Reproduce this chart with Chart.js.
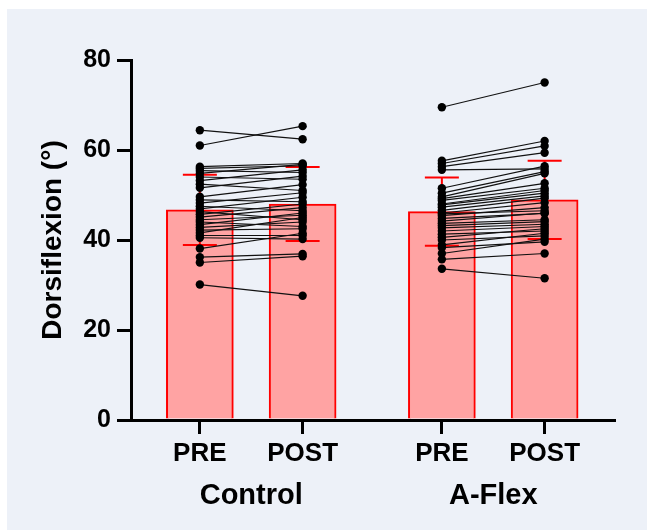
<!DOCTYPE html>
<html>
<head>
<meta charset="utf-8">
<title>Dorsiflexion PRE / POST</title>
<script src="https://cdn.jsdelivr.net/npm/chart.js@4.4.1/dist/chart.umd.min.js"></script>
<style>
    html, body { margin: 0; padding: 0; background: #fff; }
    body { width: 647px; height: 530px; position: relative; overflow: hidden; }
    .panel { position: absolute; left: 7px; top: 9px; right: 0; bottom: 0; background: #edf1f8; }
    #chart { position: absolute; left: 0; top: 0; }
</style>
</head>
<body>
<div class="panel"></div>
<canvas id="chart" width="647" height="530"></canvas>
<script>
// =============================================
// DATA
// =============================================
const groups = ['Control', 'A-Flex'];
const timeLabels = ['PRE', 'POST', 'PRE', 'POST'];
const yTicks = [0, 20, 40, 60, 80];

// bar heights (mean) and error bars (SD)
const barMeans = [46.7, 48.0, 46.3, 48.9];
const barSD = [7.8, 8.2, 7.6, 8.7];

// individual subjects, same index = same subject
const controlPre  = [64.4, 61.0, 56.3, 55.9, 55.4, 54.8, 54.0, 53.2, 52.4, 51.6, 49.6, 48.9, 48.2, 47.5, 46.9,
                     46.3, 45.7, 45.1, 44.5, 44.0, 43.4, 42.8, 42.2, 41.6, 41.0, 40.5, 38.1, 36.2, 35.0, 30.1];
const controlPost = [62.4, 65.3, 57.0, 56.5, 55.0, 56.8, 53.5, 55.6, 51.0, 54.2, 52.3, 48.5, 50.5, 46.5, 49.5,
                     44.5, 48.0, 47.2, 45.5, 43.0, 46.0, 44.0, 42.5, 45.0, 41.0, 40.2, 41.5, 36.9, 36.4, 27.6];
const aflexPre    = [69.5, 57.6, 57.0, 56.3, 55.6, 51.5, 50.4, 49.6, 49.2, 48.8, 48.0, 47.8, 47.3, 46.6, 46.0, 45.8,
                     45.4, 44.8, 44.2, 43.7, 43.2, 42.7, 42.0, 41.3, 40.6, 40.0, 38.9, 38.3, 37.0, 35.7, 33.6];
const aflexPost   = [75.0, 62.0, 60.9, 59.4, 55.8, 56.4, 55.2, 54.8, 52.6, 51.5, 51.0, 50.4, 49.8, 49.3, 48.3, 46.5,
                     47.2, 45.9, 46.0, 44.5, 44.1, 43.5, 43.0, 42.0, 42.5, 40.9, 41.5, 39.6, 40.2, 37.0, 31.5];

// =============================================
// LAYOUT — slot positions on the linear x scale
// =============================================
const xSlots = [1, 2, 3.355, 4.355];
const groupCenters = [(xSlots[0] + xSlots[1]) / 2, (xSlots[2] + xSlots[3]) / 2];
const X_MIN = 0.33, X_MAX = 5.03;

Chart.defaults.font.family = '"Liberation Sans", Arial, Helvetica, sans-serif';
Chart.defaults.font.weight = 'bold';
Chart.defaults.color = '#000';

// =============================================
// PLUGIN — SD error bars, drawn right after the bars
// =============================================
const errorBars = {
    id: 'errorBars',
    afterDatasetDraw(chart, args) {
        if (args.index !== 0) return;
        const { ctx, scales: { x, y } } = chart;
        ctx.save();
        ctx.strokeStyle = '#ff0000';
        ctx.lineWidth = 2;
        barMeans.forEach((m, i) => {
            const px = x.getPixelForValue(xSlots[i]);
            const hi = y.getPixelForValue(m + barSD[i]);
            const lo = y.getPixelForValue(m - barSD[i]);
            ctx.beginPath();
            ctx.moveTo(px, hi); ctx.lineTo(px, lo);
            ctx.moveTo(px - 17, hi); ctx.lineTo(px + 17, hi);
            ctx.moveTo(px - 17, lo); ctx.lineTo(px + 17, lo);
            ctx.stroke();
        });
        ctx.restore();
    },
};

// =============================================
// DATASETS
// =============================================
const datasets = [{
    type: 'bar',
    data: barMeans.map((m, i) => ({ x: xSlots[i], y: m })),
    backgroundColor: '#ffa3a3',
    borderColor: '#ff0000',
    borderWidth: 2,
    barThickness: 67,
    order: 1,
}];

function addPairs(pre, post, a, b) {
    pre.forEach((v, i) => datasets.push({
        type: 'line',
        data: [{ x: xSlots[a], y: v }, { x: xSlots[b], y: post[i] }],
        borderColor: '#111',
        borderWidth: 1.2,
        pointRadius: 4.2,
        pointBackgroundColor: '#000',
        pointBorderWidth: 0,
        order: 0,
    }));
}
addPairs(controlPre, controlPost, 0, 1);
addPairs(aflexPre, aflexPost, 2, 3);

// =============================================
// CHART
// =============================================
new Chart(document.getElementById('chart'), {
    type: 'bar',
    data: { datasets },
    plugins: [errorBars],
    options: {
        responsive: false,
        animation: false,
        layout: { padding: { top: 60, right: 33, left: 0, bottom: 0 } },
        plugins: { legend: { display: false }, tooltip: { enabled: false } },
        scales: {
            x: {
                type: 'linear', min: X_MIN, max: X_MAX, offset: false, weight: 0,
                afterBuildTicks: s => { s.ticks = xSlots.map(v => ({ value: v })); },
                afterFit: s => { s.height = 50; },
                grid: { drawOnChartArea: false, offset: false, color: '#000', lineWidth: 3, tickLength: 14 },
                border: { color: '#000', width: 3 },
                ticks: { callback: (v, i) => timeLabels[i], font: { size: 26 }, padding: 4, autoSkip: false, maxRotation: 0 },
            },
            xGroup: {
                type: 'linear', axis: 'x', position: 'bottom', min: X_MIN, max: X_MAX, offset: false, weight: 1,
                afterBuildTicks: s => { s.ticks = groupCenters.map(v => ({ value: v })); },
                afterFit: s => { s.height = 60; },
                grid: { display: false, drawTicks: false },
                border: { display: false },
                ticks: { callback: (v, i) => groups[i], font: { size: 29 }, padding: 9, autoSkip: false, maxRotation: 0 },
            },
            y: {
                min: 0, max: 80,
                afterBuildTicks: s => { s.ticks = yTicks.map(v => ({ value: v })); },
                afterFit: s => { s.width = 131; },
                grid: { drawOnChartArea: false, color: '#000', lineWidth: 3, tickLength: 14 },
                border: { color: '#000', width: 3 },
                ticks: { font: { size: 25 }, padding: 6 },
                title: { display: true, text: 'Dorsiflexion (°)', font: { size: 28 }, padding: { top: 36, bottom: 0 } },
            },
        },
    },
});
</script>
</body>
</html>
